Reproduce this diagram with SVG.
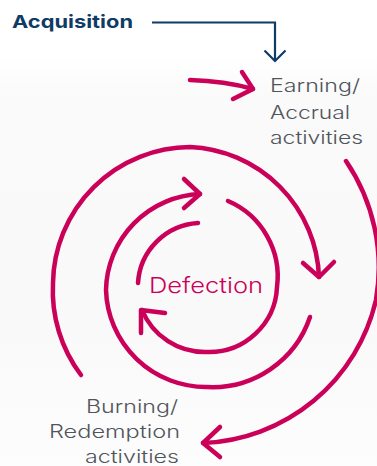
<svg xmlns="http://www.w3.org/2000/svg" width="377" height="466" viewBox="0 0 377 466">
  <defs>
    <linearGradient id="bg" x1="0" y1="0" x2="0" y2="1">
      <stop offset="0" stop-color="#ffffff"/>
      <stop offset="0.12" stop-color="#ffffff"/>
      <stop offset="0.2" stop-color="#fafafa"/>
      <stop offset="0.7" stop-color="#f9f9f9"/>
      <stop offset="1" stop-color="#fdfdfd"/>
    </linearGradient>
    <style>
      .loop { fill: none; stroke: #cb0058; stroke-width: 4.5; stroke-linecap: round; stroke-linejoin: round; }
      .feed { fill: none; stroke: #0f3b65; stroke-width: 2.2; stroke-linecap: butt; stroke-linejoin: miter; }
      .stage { font-family: Inter, "Liberation Sans", sans-serif; font-size: 18px; font-weight: 300; fill: #50555a; }
      .entry { font-family: Inter, "Liberation Sans", sans-serif; font-size: 18px; font-weight: 700; fill: #0f3b65; }
      .core { font-family: Inter, "Liberation Sans", sans-serif; font-size: 22px; font-weight: 300; fill: #cb0058; }
    </style>
  </defs>

  <rect x="0" y="0" width="377" height="466" fill="url(#bg)"/>

  <!-- loop arrows -->
  <g id="connectors">
    <!-- acquisition feed into earning -->
    <path class="feed" d="M152,22.5 H275 V61"/>
    <path class="feed" d="M264.5,50.5 L275,61 L285.5,50.5"/>

    <!-- short entry arrow into earning -->
    <path class="loop" d="M190,80 Q225,81 253,89"/>
    <path class="loop" d="M242,72 L253,89 L233,99"/>

    <!-- outermost sweep: earning to burning -->
    <path class="loop" d="M346,161 A190,190 0 0 1 376,300 A185,185 0 0 1 203,443"/>
    <path class="loop" d="M220,427 L203,443 L220,457"/>

    <!-- outer ring: burning back round to earning side -->
    <path class="loop" d="M81,375 A140,140 0 0 1 53,283 A138,138 0 0 1 190,147 A135,135 0 0 1 319,277"/>
    <path class="loop" d="M303,263 L319,277 L334,262"/>

    <!-- middle ring -->
    <path class="loop" d="M310,317 A103,103 0 0 1 207,387 A100,100 0 0 1 106,290 A98,98 0 0 1 200,194"/>
    <path class="loop" d="M184,179 L200,194 L184,208"/>

    <!-- inner ring, top-left piece -->
    <path class="loop" d="M198,223 A64,64 0 0 0 138,283"/>

    <!-- inner ring, spiralling piece -->
    <path class="loop" d="M228,201 A82,82 0 0 1 277,287 A68,68 0 0 1 207,352 A68,68 0 0 1 142,310"/>
    <path class="loop" d="M165,313 L141,310 L141,333"/>
  </g>

  <g id="acquisition">
    <text class="entry" x="12" y="28" textLength="121" lengthAdjust="spacingAndGlyphs">Acquisition</text>
  </g>

  <g id="earning">
    <text class="stage" x="270" y="92" textLength="90" lengthAdjust="spacingAndGlyphs">Earning/</text>
    <text class="stage" x="270" y="119" textLength="80" lengthAdjust="spacingAndGlyphs">Accrual</text>
    <text class="stage" x="270" y="144" textLength="93" lengthAdjust="spacingAndGlyphs">activities</text>
  </g>

  <g id="defection">
    <text class="core" x="149" y="293" textLength="114" lengthAdjust="spacingAndGlyphs">Defection</text>
  </g>

  <g id="burning">
    <text class="stage" x="86" y="413" textLength="92" lengthAdjust="spacingAndGlyphs">Burning/</text>
    <text class="stage" x="49" y="438" textLength="131" lengthAdjust="spacingAndGlyphs">Redemption</text>
    <text class="stage" x="85" y="463" textLength="94" lengthAdjust="spacingAndGlyphs">activities</text>
  </g>
</svg>
